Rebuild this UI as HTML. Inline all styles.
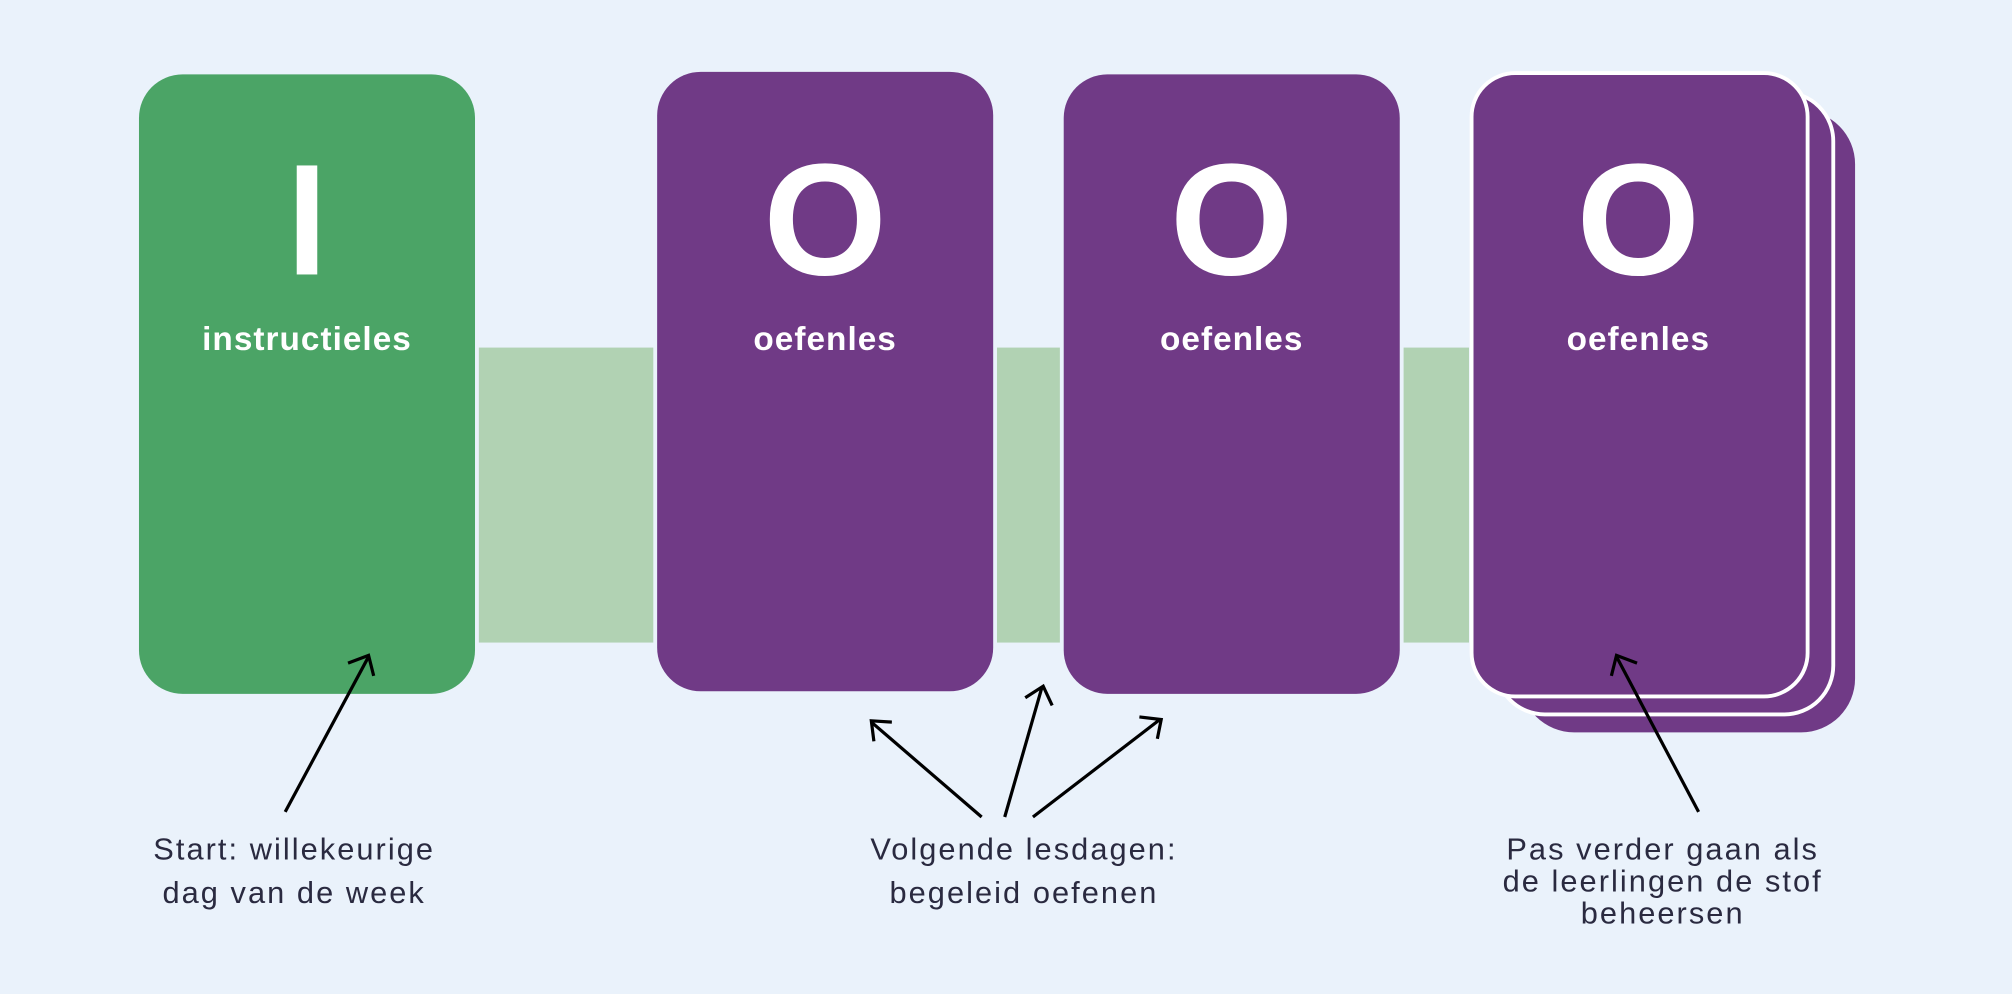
<!DOCTYPE html>
<html><head><meta charset="utf-8"><style>html,body{margin:0;padding:0;background:#EAF2FB}svg{display:block}</style></head>
<body>
<svg width="2012" height="994" viewBox="0 0 1568 775" xmlns="http://www.w3.org/2000/svg" font-family="Liberation Sans, sans-serif">
<rect width="1568" height="775" fill="#EAF2FB"/>
<rect x="373" y="271" width="136" height="230" fill="#B1D2B3"/>
<rect x="777" y="271" width="49" height="230" fill="#B1D2B3"/>
<rect x="1094" y="271" width="51" height="230" fill="#B1D2B3"/>
<rect x="108" y="58" width="262" height="483" rx="34" fill="#4BA466"/>
<rect x="512" y="56" width="262" height="483" rx="34" fill="#703A86"/>
<rect x="829" y="58" width="262" height="483" rx="34" fill="#703A86"/>
<rect x="1185" y="86" width="261" height="485" rx="42" fill="#703A86"/>
<rect x="1166" y="72" width="263" height="485" rx="38" fill="#703A86" stroke="#fff" stroke-width="3"/>
<rect x="1147" y="57" width="262" height="486" rx="34" fill="#703A86" stroke="#fff" stroke-width="3"/>
<g fill="#fff" text-anchor="middle">
<rect x="231" y="129" width="16" height="85"/>
<text x="643" y="214" font-size="124" font-weight="bold">O</text>
<text x="960" y="214" font-size="124" font-weight="bold">O</text>
<text x="1277" y="214" font-size="124" font-weight="bold">O</text>
<g font-size="26" font-weight="bold" letter-spacing="0.8">
<text x="239" y="273">instructieles</text>
<text x="643" y="273">oefenles</text>
<text x="960" y="273">oefenles</text>
<text x="1277" y="273">oefenles</text>
</g></g>
<g stroke="#000" stroke-width="2.5" fill="none">
<line x1="222" y1="633" x2="287" y2="512"/><polyline points="271,517 287,511 291,527"/>
<line x1="765" y1="637" x2="679" y2="563"/><polyline points="681,578 679,562 695,563"/>
<line x1="783" y1="637" x2="812" y2="536"/><polyline points="799,544 813,535 820,550"/>
<line x1="805" y1="637" x2="904" y2="561"/><polyline points="888,559 905,561 902,576"/>
<line x1="1324" y1="633" x2="1260" y2="512"/><polyline points="1256,527 1260,511 1276,517"/>
</g>
<g fill="#2A2A40" font-size="24" text-anchor="middle" letter-spacing="1.6">
<text x="229" y="670">Start: willekeurige</text>
<text x="229" y="704">dag van de week</text>
<text x="798" y="670">Volgende lesdagen:</text>
<text x="798" y="704">begeleid oefenen</text>
<text x="1296" y="670">Pas verder gaan als</text>
<text x="1296" y="695">de leerlingen de stof</text>
<text x="1296" y="720">beheersen</text>
</g>
</svg>
</body></html>
